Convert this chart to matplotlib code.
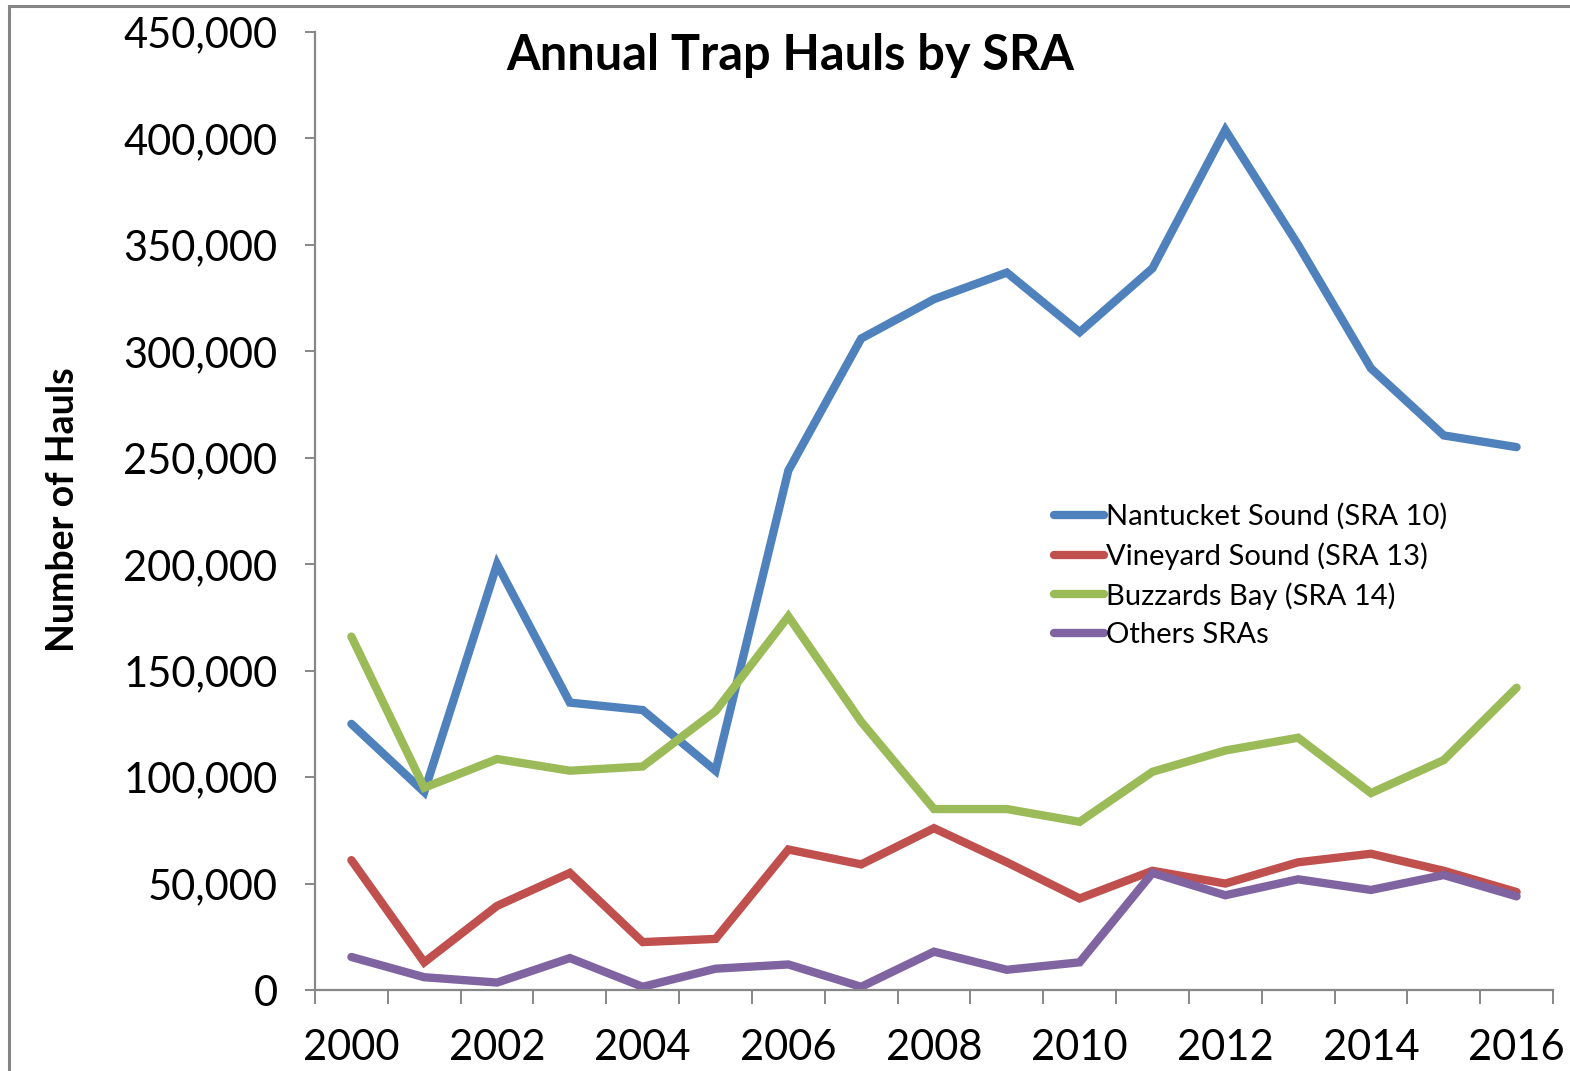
import matplotlib.pyplot as plt
import numpy as np
from matplotlib.patches import Rectangle
from matplotlib.ticker import FuncFormatter

years = list(range(2000, 2017))

# hauls per year
nantucket = [125000, 93000, 200000, 135000, 131500, 103000, 244000, 306000, 324500,
             337000, 309000, 339000, 404000, 350000, 292000, 260500, 255000]
vineyard = [61000, 13000, 39500, 55000, 22500, 24000, 66000, 59000, 76000,
            60000, 43000, 56000, 50000, 60000, 64000, 56000, 46000]
buzzards = [166000, 95000, 108500, 103000, 105000, 131000, 175500, 126000, 85000,
            85000, 79000, 102500, 112500, 118500, 92500, 108000, 142000]
others = [15500, 6000, 3500, 15000, 1500, 10000, 12000, 1500, 18000,
          9500, 13000, 55000, 44500, 52000, 47000, 54000, 44000]

series_names = ['Nantucket Sound (SRA 10)', 'Vineyard Sound (SRA 13)',
                'Buzzards Bay (SRA 14)', 'Others SRAs']
colors = ['#4F81BD', '#C0504D', '#9BBB59', '#8064A2']

plt.rcParams['font.family'] = ['Lato', 'DejaVu Sans']

fig = plt.figure(figsize=(15.7, 10.71), dpi=100)
ax = fig.add_axes([315 / 1570, 1 - 990 / 1071, (1553 - 315) / 1570, (990 - 32) / 1071])

# chart border (only top and left show in the picture)
fig.patches.append(Rectangle((8.5 / 1570, -0.1), 1.2, 1 - 6.5 / 1071 + 0.1,
                             transform=fig.transFigure, fill=False,
                             edgecolor='#868686', linewidth=2.2))

x = np.arange(len(years))
for vals, name, c in zip([nantucket, vineyard, buzzards, others], series_names, colors):
    ax.plot(x, vals, color=c, linewidth=6, label=name,
            solid_joinstyle='miter', solid_capstyle='round')

ax.set_xlim(-0.5, len(years) - 0.5)
ax.set_ylim(0, 450000)
ax.set_yticks(np.arange(0, 450001, 50000))
ax.yaxis.set_major_formatter(FuncFormatter(lambda v, p: f'{int(v):,}'))

ax.set_xticks(x[::2])
ax.set_xticklabels([str(y) for y in years[::2]])
ax.set_xticks(np.arange(-0.5, len(years), 1.0), minor=True)

spine_col = '#878787'
for s in ['top', 'right']:
    ax.spines[s].set_visible(False)
for s in ['left', 'bottom']:
    ax.spines[s].set_color(spine_col)
    ax.spines[s].set_linewidth(1.6)

ax.tick_params(axis='y', length=7, width=1.4, color=spine_col, labelsize=30, pad=20)
ax.tick_params(axis='x', which='major', length=0, labelsize=30, pad=28)
ax.tick_params(axis='x', which='minor', length=10, width=1.4, color=spine_col)

fig.text(63 / 1570, 1 - 510 / 1071, 'Number of Hauls', rotation=90, fontsize=27,
         fontweight='bold', ha='center', va='center')
fig.text(790 / 1570, 1 - 56 / 1071, 'Annual Trap Hauls by SRA', fontsize=35,
         fontweight='bold', ha='center', va='center')

ax.legend(loc='upper left', bbox_to_anchor=(1054 / 1570, 1 - 503 / 1071),
          bbox_transform=fig.transFigure, frameon=False, fontsize=21,
          handlelength=1.7, handletextpad=0.1, labelspacing=0.42,
          borderaxespad=0, borderpad=0)

plt.savefig('out.png', dpi=100)
